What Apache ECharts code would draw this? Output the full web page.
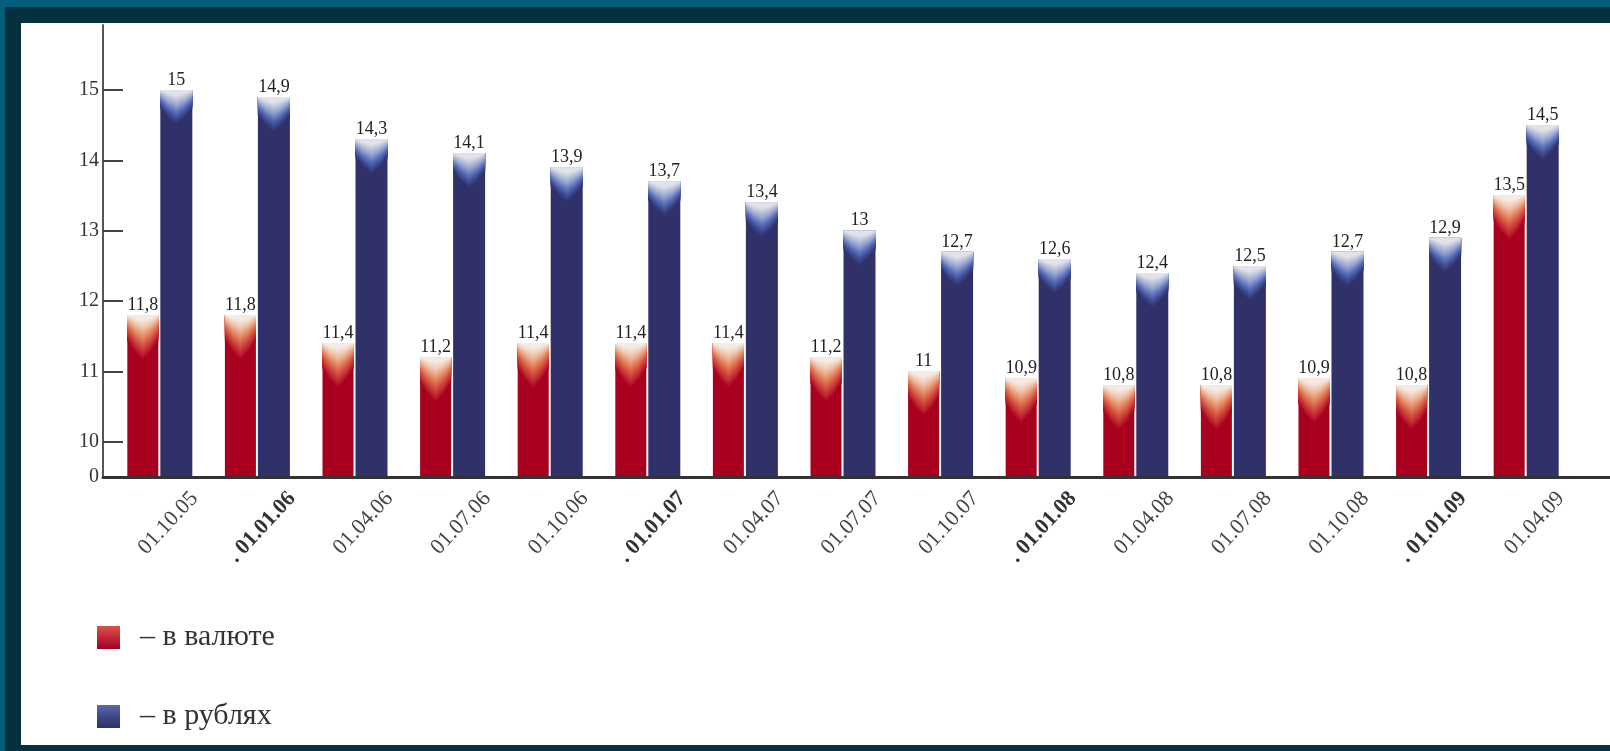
<!DOCTYPE html>
<html>
<head>
<meta charset="utf-8">
<title>Доля</title>
<script src="https://cdn.jsdelivr.net/npm/echarts@6/dist/echarts.min.js"></script>
<style>
  html, body { margin: 0; padding: 0; width: 1610px; height: 751px; overflow: hidden; background: #05303d; }
  #stripL { position: absolute; left: 0; top: 0; width: 5px; height: 751px; background: #03607c; }
  #stripT { position: absolute; left: 0; top: 0; width: 1610px; height: 7px; background: #03607c; }
  #chart { position: absolute; left: 21px; top: 23px; width: 1589px; height: 722px; background: #ffffff; }
</style>
</head>
<body>
<div id="stripL"></div>
<div id="stripT"></div>
<div id="chart"></div>
<script>
// Quarterly dates
const categories = ['01.10.05', '01.01.06', '01.04.06', '01.07.06', '01.10.06', '01.01.07', '01.04.07',
  '01.07.07', '01.10.07', '01.01.08', '01.04.08', '01.07.08', '01.10.08', '01.01.09', '01.04.09'];

// Values, %
const inCurrency = [11.8, 11.8, 11.4, 11.2, 11.4, 11.4, 11.4, 11.2, 11, 10.9, 10.8, 10.8, 10.9, 10.8, 13.5];
const inRubles = [15, 14.9, 14.3, 14.1, 13.9, 13.7, 13.4, 13, 12.7, 12.6, 12.4, 12.5, 12.7, 12.9, 14.5];

// Broken value axis: the bottom of the scale is labelled "0"
const yTickValues = [9.5, 10, 11, 12, 13, 14, 15];
const yTickLabels = ['0', '10', '11', '12', '13', '14', '15'];

const seriesNames = ['в валюте', 'в рублях'];

const Y_FLOOR = 9.5;
const Y_TOP = 15.924;
const X_MIN = -0.577;
const X_MAX = 14.864;
const LABEL_SHIFT = 0.36;
const SERIF = '"Liberation Serif", "Times New Roman", serif';

const fmt = v => String(v).replace('.', ',');

// Key highlight bands at the top of each bar, outermost first
const redKeys = [
  { edge: 26, mid: 46, color: '#a8001e' },
  { edge: 20, mid: 39, color: '#c02a33' },
  { edge: 14, mid: 31, color: '#d6563f' },
  { edge: 9, mid: 24, color: '#e3835f' },
  { edge: 5, mid: 17, color: '#ecb093' },
  { edge: 2, mid: 11, color: '#f1d2bf' },
  { edge: 0, mid: 5, color: '#f6ebe4' }
];
const blueKeys = [
  { edge: 19, mid: 36, color: '#2f3168' },
  { edge: 14, mid: 29, color: '#3f4f98' },
  { edge: 10, mid: 23, color: '#5d72ba' },
  { edge: 6, mid: 17, color: '#91a0cf' },
  { edge: 3, mid: 11, color: '#bcc3db' },
  { edge: 0, mid: 6, color: '#e1e3ea' }
];

function hexToRgb(h) {
  const n = parseInt(h.slice(1), 16);
  return [(n >> 16) & 255, (n >> 8) & 255, n & 255];
}
function mixColor(a, b, t) {
  const ca = hexToRgb(a), cb = hexToRgb(b);
  return 'rgb(' + ca.map((c, k) => Math.round(c + (cb[k] - c) * t)).join(',') + ')';
}
// Subdivide the key bands for a smoother highlight
function expandBands(keys, steps) {
  const out = [];
  for (let k = 0; k < keys.length - 1; k++) {
    const a = keys[k], b = keys[k + 1];
    for (let s = 0; s < steps; s++) {
      const t = s / steps;
      out.push({
        edge: a.edge + (b.edge - a.edge) * t,
        mid: a.mid + (b.mid - a.mid) * t,
        color: mixColor(a.color, b.color, t)
      });
    }
  }
  const last = keys[keys.length - 1];
  out.push({ edge: last.edge, mid: last.mid, color: last.color });
  return out;
}
const redBands = expandBands(redKeys, 4);
const blueBands = expandBands(blueKeys, 4);

function barRenderer(offset, width, base, bands) {
  return function (params, api) {
    const i = api.value(0);
    const v = api.value(1);
    const top = api.coord([i, v]);
    const bottom = api.coord([i, Y_FLOOR]);
    const x0 = top[0] + offset;
    const y0 = top[1];
    const h = bottom[1] - y0;
    const children = [{
      type: 'rect',
      shape: { x: x0, y: y0, width: width, height: h },
      style: { fill: base }
    }];
    bands.forEach(b => {
      const e = Math.min(b.edge, h);
      const m = Math.min(b.mid, h);
      const q = e + (m - e) * 0.6;
      children.push({
        type: 'polygon',
        shape: {
          points: [
            [x0, y0], [x0 + width, y0], [x0 + width, y0 + e],
            [x0 + width * 0.75, y0 + q], [x0 + width / 2, y0 + m],
            [x0 + width * 0.25, y0 + q], [x0, y0 + e]
          ]
        },
        style: { fill: b.color }
      });
    });
    children.push({
      type: 'text',
      style: {
        text: fmt(v),
        x: x0 + width / 2,
        y: y0 - 1,
        align: 'center',
        verticalAlign: 'bottom',
        fontFamily: SERIF,
        fontSize: 18,
        fill: '#222222'
      }
    });
    return { type: 'group', children: children };
  };
}

const chart = echarts.init(document.getElementById('chart'), null, { renderer: 'canvas' });

const legendRed = new echarts.graphic.LinearGradient(0, 0, 0, 1, [
  { offset: 0, color: '#d85448' }, { offset: 0.5, color: '#c0283a' }, { offset: 1, color: '#a0001e' }
]);
const legendBlue = new echarts.graphic.LinearGradient(0, 0, 0, 1, [
  { offset: 0, color: '#5a6aae' }, { offset: 0.5, color: '#3d4888' }, { offset: 1, color: '#2f3168' }
]);

chart.setOption({
  animation: false,
  backgroundColor: '#ffffff',
  grid: { left: 82, right: 0, top: 2, bottom: 268, containLabel: false },
  legend: {
    orient: 'vertical',
    left: 76,
    top: 599,
    padding: 0,
    icon: 'rect',
    itemWidth: 23,
    itemHeight: 23,
    itemGap: 48,
    formatter: name => '– ' + name,
    textStyle: { fontFamily: SERIF, fontSize: 30, lineHeight: 31, color: '#333333', padding: [0, 0, 0, 15] },
    data: [
      { name: seriesNames[0], itemStyle: { color: legendRed } },
      { name: seriesNames[1], itemStyle: { color: legendBlue } }
    ]
  },
  xAxis: [
    {
      type: 'value',
      min: X_MIN,
      max: X_MAX,
      z: 5,
      axisLine: { show: true, onZero: false, lineStyle: { color: '#333333', width: 3 } },
      axisTick: { show: false },
      axisLabel: { show: false },
      splitLine: { show: false }
    },
    {
      type: 'value',
      gridIndex: 0,
      position: 'bottom',
      min: X_MIN - LABEL_SHIFT,
      max: X_MAX - LABEL_SHIFT,
      axisLine: { show: false, onZero: false },
      axisTick: { show: false },
      splitLine: { show: false },
      axisLabel: {
        customValues: categories.map((_, i) => i),
        rotate: 47,
        margin: 18,
        fontFamily: SERIF,
        fontSize: 22,
        color: '#444444',
        formatter: v => {
          const s = categories[Math.round(v)];
          return s.startsWith('01.01') ? '{b|. ' + s + '}' : s;
        },
        rich: {
          b: { fontFamily: SERIF, fontSize: 22, fontWeight: 'bold', color: '#333333' }
        }
      }
    }
  ],
  yAxis: {
    type: 'value',
    min: Y_FLOOR,
    max: Y_TOP,
    axisLine: { show: true, onZero: false, lineStyle: { color: '#555555', width: 2 } },
    axisTick: {
      show: true,
      inside: true,
      length: 20,
      customValues: yTickValues.slice(1),
      lineStyle: { color: '#444444', width: 2 }
    },
    axisLabel: {
      customValues: yTickValues,
      margin: 4,
      fontFamily: SERIF,
      fontSize: 20,
      color: '#333333',
      formatter: v => yTickLabels[yTickValues.indexOf(v)]
    },
    splitLine: { show: false }
  },
  series: [
    {
      name: seriesNames[0],
      type: 'custom',
      xAxisIndex: 0,
      yAxisIndex: 0,
      itemStyle: { color: '#a8001e' },
      encode: { x: 0, y: 1 },
      data: inCurrency.map((v, i) => [i, v]),
      renderItem: barRenderer(-32, 31, '#a8001e', redBands)
    },
    {
      name: seriesNames[1],
      type: 'custom',
      xAxisIndex: 0,
      yAxisIndex: 0,
      itemStyle: { color: '#2f3168' },
      encode: { x: 0, y: 1 },
      data: inRubles.map((v, i) => [i, v]),
      renderItem: barRenderer(1, 32, '#2f3168', blueBands)
    }
  ]
});
</script>
</body>
</html>
